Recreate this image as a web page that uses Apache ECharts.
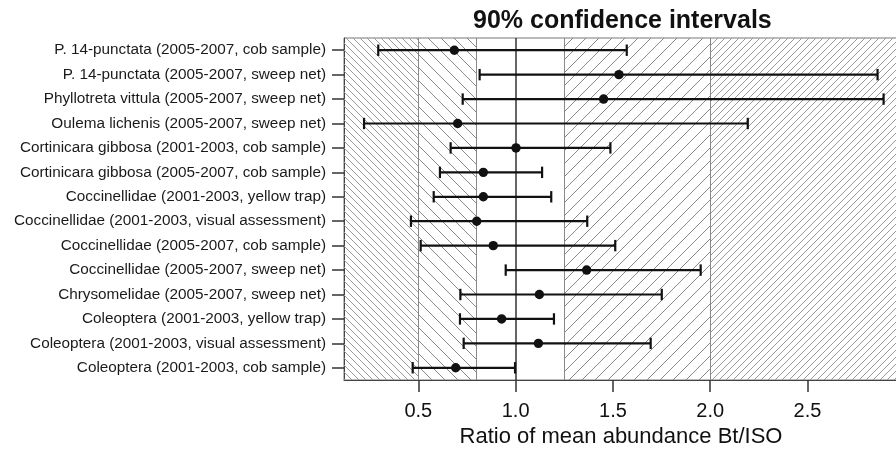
<!DOCTYPE html>
<html>
<head>
<meta charset="utf-8">
<script src="https://cdn.jsdelivr.net/npm/echarts@6/dist/echarts.min.js"></script>
<style>html,body{margin:0;padding:0;background:#fff}#c{width:896px;height:449px}</style>
</head>
<body>
<div id="c"></div>
<script>
const labels = [
  "P. 14-punctata (2005-2007, cob sample)",
  "P. 14-punctata (2005-2007, sweep net)",
  "Phyllotreta vittula (2005-2007, sweep net)",
  "Oulema lichenis (2005-2007, sweep net)",
  "Cortinicara gibbosa (2001-2003, cob sample)",
  "Cortinicara gibbosa (2005-2007, cob sample)",
  "Coccinellidae (2001-2003, yellow trap)",
  "Coccinellidae (2001-2003, visual assessment)",
  "Coccinellidae (2005-2007, cob sample)",
  "Coccinellidae (2005-2007, sweep net)",
  "Chrysomelidae (2005-2007, sweep net)",
  "Coleoptera (2001-2003, yellow trap)",
  "Coleoptera (2001-2003, visual assessment)",
  "Coleoptera (2001-2003, cob sample)"
];
const lower = [0.294, 0.815, 0.728, 0.221, 0.666, 0.611, 0.579, 0.462, 0.512, 0.949, 0.716, 0.714, 0.733, 0.471];
const mean  = [0.685, 1.531, 1.452, 0.702, 1.002, 0.834, 0.834, 0.800, 0.885, 1.365, 1.122, 0.928, 1.117, 0.692];
const upper = [1.571, 2.860, 2.891, 2.193, 1.487, 1.136, 1.183, 1.368, 1.512, 1.951, 1.751, 1.197, 1.694, 0.997];
const xTicks = [0.5, 1.0, 1.5, 2.0, 2.5];
const xMin = 0.118, xMax = 2.965;
const zoneBreaks = [0.5, 0.8, 1.25, 2.0];
const refLines = [0.5, 0.8, 1.0, 1.25, 2.0];

function hatch(p, dir, color) {
  const c = document.createElement('canvas');
  c.width = p; c.height = p;
  const g = c.getContext('2d');
  g.strokeStyle = color; g.lineWidth = 1;
  g.beginPath();
  for (const k of [-p, 0, p]) {
    if (dir === '/') { g.moveTo(k, p); g.lineTo(k + p, 0); }
    else { g.moveTo(k, 0); g.lineTo(k + p, p); }
  }
  g.stroke();
  return c;
}
const pat = (p, dir, col) => ({ image: hatch(p, dir, col), repeat: 'repeat' });

const data = labels.map((l, i) => [i, lower[i], mean[i], upper[i]]);
const FONT = '"Liberation Sans", Arial, Helvetica, sans-serif';

const chart = echarts.init(document.getElementById('c'), null, { renderer: 'canvas' });
chart.setOption({
  animation: false,
  backgroundColor: '#fff',
  title: {
    text: '90% confidence intervals',
    left: 473, top: 9, padding: 0,
    textStyle: { fontFamily: FONT, fontSize: 25, fontWeight: 'bold', color: '#111' }
  },
  grid: { left: 344, top: 38, bottom: 69, right: -2, show: true, borderColor: '#777', borderWidth: 1,
    containLabel: false, outerBoundsMode: 'none' },
  xAxis: {
    type: 'value', min: xMin, max: xMax,
    name: 'Ratio of mean abundance Bt/ISO',
    nameLocation: 'middle', nameGap: 46,
    nameTextStyle: { fontFamily: FONT, fontSize: 22, color: '#111' },
    axisLine: { show: true, lineStyle: { color: '#444', width: 1 } },
    axisTick: { show: true, length: 12, customValues: xTicks, lineStyle: { color: '#333', width: 1.5 } },
    axisLabel: { customValues: xTicks, margin: 21, fontFamily: FONT, fontSize: 20, color: '#111',
      formatter: v => v.toFixed(1) },
    splitLine: { show: false }
  },
  yAxis: {
    type: 'category', data: labels, inverse: true,
    axisLine: { show: true, lineStyle: { color: '#444', width: 1 } },
    axisTick: { show: true, alignWithLabel: true, length: 12, lineStyle: { color: '#333', width: 1.5 } },
    axisLabel: { margin: 18, fontFamily: FONT, fontSize: 15.3, color: '#1a1a1a' },
    splitLine: { show: false }
  },
  series: [
    {
      type: 'scatter', data: [], silent: true, z: 1,
      markArea: {
        silent: true,
        label: { show: false },
        data: [
          [{ xAxis: xMin, itemStyle: { color: pat(7, '\\', '#9a9a9a') } }, { xAxis: zoneBreaks[0] }],
          [{ xAxis: zoneBreaks[0], itemStyle: { color: pat(13, '\\', '#8a8a8a') } }, { xAxis: zoneBreaks[1] }],
          [{ xAxis: zoneBreaks[2], itemStyle: { color: pat(13, '/', '#8a8a8a') } }, { xAxis: zoneBreaks[3] }],
          [{ xAxis: zoneBreaks[3], itemStyle: { color: pat(7, '/', '#9a9a9a') } }, { xAxis: xMax }]
        ]
      },
      markLine: {
        silent: true, symbol: ['none', 'none'], label: { show: false },
        data: refLines.map(v => ({ xAxis: v, lineStyle: { color: v === 1.0 ? '#333' : '#888', width: v === 1.0 ? 1.5 : 1, type: 'solid' } }))
      }
    },
    {
      type: 'custom', z: 5, data: data,
      encode: { x: [1, 2, 3], y: 0 },
      renderItem: function (params, api) {
        const yi = api.value(0);
        const a = api.coord([api.value(1), yi]);
        const m = api.coord([api.value(2), yi]);
        const b = api.coord([api.value(3), yi]);
        const st = { stroke: '#111', lineWidth: 2.2 };
        const h = 5.7;
        return {
          type: 'group',
          children: [
            { type: 'line', shape: { x1: a[0], y1: a[1], x2: b[0], y2: b[1] }, style: st },
            { type: 'line', shape: { x1: a[0], y1: a[1] - h, x2: a[0], y2: a[1] + h }, style: st },
            { type: 'line', shape: { x1: b[0], y1: b[1] - h, x2: b[0], y2: b[1] + h }, style: st },
            { type: 'circle', shape: { cx: m[0], cy: m[1], r: 4.7 }, style: { fill: '#111' } }
          ]
        };
      }
    }
  ]
});
</script>
</body>
</html>
